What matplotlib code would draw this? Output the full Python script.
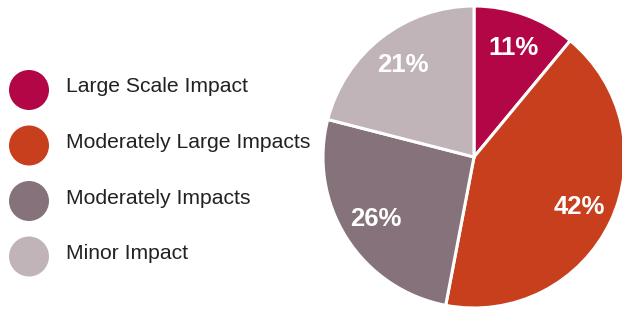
import matplotlib.pyplot as plt
from matplotlib.patches import Circle

categories = ["Large Scale Impact", "Moderately Large Impacts", "Moderately Impacts", "Minor Impact"]
shares = [11, 42, 26, 21]
colors = ["#B30646", "#C73F1D", "#85727A", "#C1B4B8"]

plt.rcParams["font.family"] = ["Liberation Sans", "DejaVu Sans"]

fig = plt.figure(figsize=(6.22, 3.10), dpi=100)
ax = fig.add_axes([0, 0, 1, 1])

wedges, texts, autotexts = ax.pie(
    shares,
    colors=colors,
    startangle=90,
    counterclock=False,
    center=(474, 153),
    radius=151,
    autopct="%d%%",
    pctdistance=0.77,
    wedgeprops=dict(edgecolor="white", linewidth=2.2),
    textprops=dict(color="white", fontsize=18.5, fontweight="bold"),
    frame=True,
)
ax.set_xlim(0, 622)
ax.set_ylim(0, 310)
ax.set_aspect("equal")
ax.axis("off")

# legend, drawn by hand to match the reference spacing
y0, step = 220, 55.5
for i, (name, c) in enumerate(zip(categories, colors)):
    y = y0 - i * step
    ax.add_patch(Circle((29, y), 20, color=c, lw=0))
    ax.text(66, y + 3, name, fontsize=15.2, color="#222222", va="center", ha="left")

fig.savefig("out.png", dpi=100)
